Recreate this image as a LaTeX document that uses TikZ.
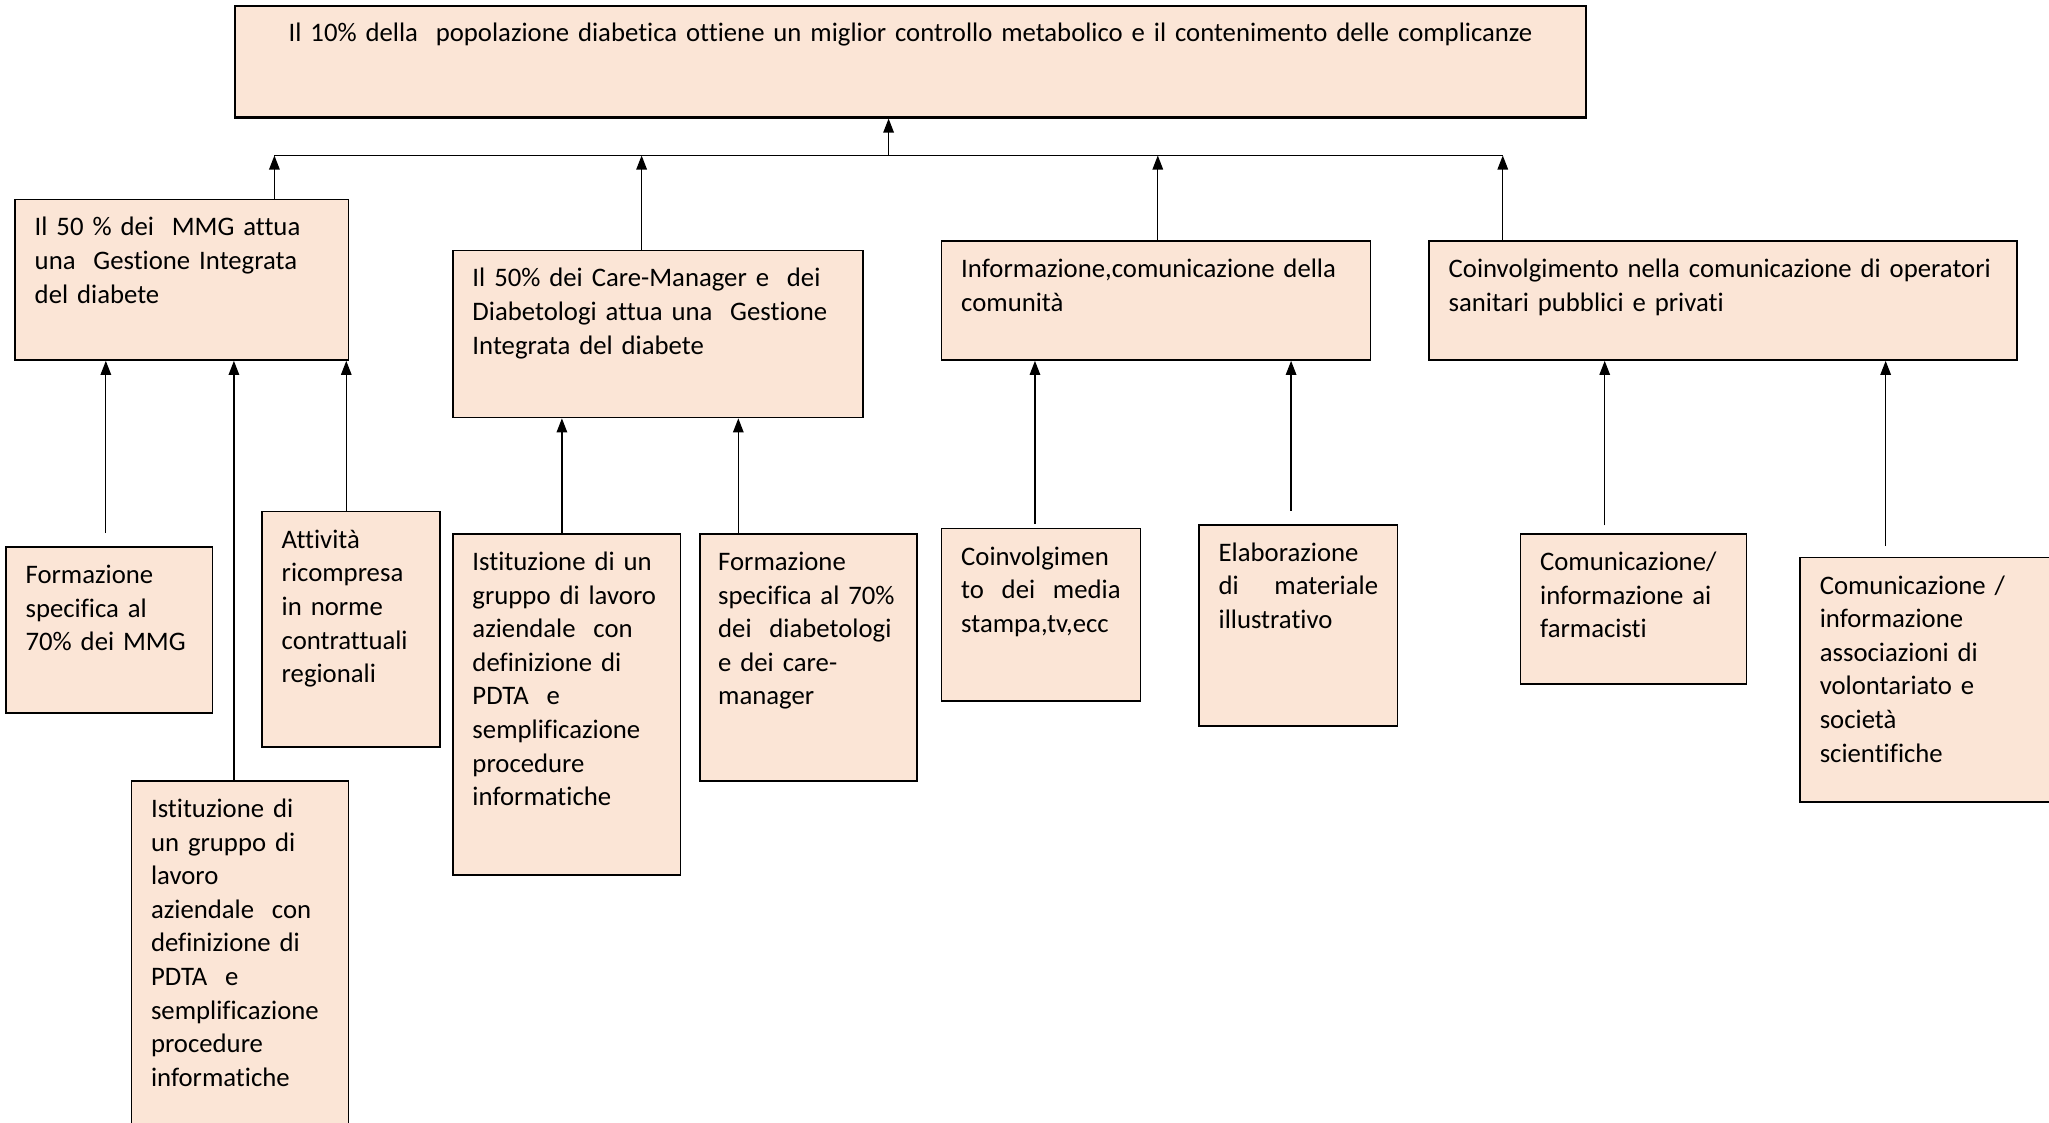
\documentclass[tikz,border=0pt]{standalone}
\usepackage{fontspec}
\setmainfont{Carlito}[Ligatures=NoCommon]
\usetikzlibrary{arrows.meta}
\definecolor{pesca}{HTML}{FBE5D6}
\newdimen\px
\px=0.521pt
\hyphenpenalty=10000
\exhyphenpenalty=10000

\begin{document}
\begin{tikzpicture}[x=\px, y=-\px,
    cella/.style={draw=black, line width=0.6pt, fill=pesca, anchor=north west,
        inner xsep=15\px, inner ysep=0pt, text height=28\px, align=left,
        font=\fontsize{10.66pt}{13.4pt}\selectfont},
    freccia/.style={line width=0.5pt, -{Triangle[length=5.6pt,width=4.2pt]}}]
                \useasboundingbox (0,0) rectangle (1568,859);
                \node [cella, line width=0.9pt, align=center, text width=1004\px, text height=27\px, text depth=58\px] (obiettivo) at (179,4) {Il 10\% della~ popolazione diabetica ottiene un miglior controllo metabolico e il contenimento delle complicanze};
                \node [cella, text width=225\px, text depth=95\px] (mmg) at (11,152) {Il 50 \% dei~ MMG attua\\ una~ Gestione Integrata\\ del diabete};
                \node [cella, text width=284\px, text depth=100\px] (caremanager) at (346,191) {Il 50\% dei Care-Manager e~ dei\\ Diabetologi attua una~ Gestione\\ Integrata del diabete};
                \node [cella, text width=298\px, text depth=63\px] (comunita) at (720,184) {Informazione,comunicazione della\\ comunità};
                \node [cella, text width=420\px, text depth=63\px] (operatori) at (1093,184) {Coinvolgimento nella comunicazione di operatori\\ sanitari pubblici e privati};
                \node [cella, text width=128\px, text depth=99\px] (formmmg) at (4,418) {Formazione\\ specifica al\\ 70\% dei MMG};
                \node [cella, text width=136\px, text depth=252\px] (gruppommg) at (100,597) {Istituzione di\\ un gruppo di\\ lavoro\\ aziendale~ con\\ definizione di\\ PDTA~ e\\ semplificazione\\ procedure\\ informatiche};
                \node [cella, text width=106\px, text depth=152\px] (norme) at (200,391) {Attività\\ ricompresa\\ in norme\\ contrattuali\\ regionali};
                \node [cella, text width=144\px, text depth=233\px] (gruppocm) at (346,408) {Istituzione di un\\ gruppo di lavoro\\ aziendale~ con\\ definizione di\\ PDTA~ e\\ semplificazione\\ procedure\\ informatiche};
                \node [cella, inner xsep=14\px, text width=138\px, text depth=161\px] (formdiab) at (535,408) {Formazione\\ specifica al 70\%\\ dei~ diabetologi\\ e dei care-\\ manager};
                \node [cella, text width=122\px, text depth=104\px] (media) at (720,404) {Coinvolgimen\\ to\hfill dei\hfill media\\ stampa,tv,ecc};
                \node [cella, text width=122\px, text depth=126\px] (materiale) at (917,401) {Elaborazione\\ di\hfill materiale\\ illustrativo};
                \node [cella, text width=143\px, text depth=87\px] (farmacisti) at (1163,408) {Comunicazione/\\ informazione ai\\ farmacisti};
                \node [cella, text width=180\px, text depth=159\px] (associazioni) at (1377,426) {Comunicazione /\\ informazione\\ associazioni di\\ volontariato e\\ società\\ scientifiche};
                \coordinate (jt) at (680,119);
                \coordinate (j1) at (210,119);
                \coordinate (j2) at (491,119);
                \coordinate (j3) at (886,119);
                \coordinate (j4) at (1150,119);
                \draw [line width=0.5pt] (j1) -- (j4);
                \draw [freccia] (jt) -- (jt |- obiettivo.south);
                \draw [freccia] (j1 |- mmg.north) -- (j1);
                \draw [freccia] (j2 |- caremanager.north) -- (j2);
                \draw [freccia] (j3 |- comunita.north) -- (j3);
                \draw [freccia] (j4 |- operatori.north) -- (j4);
                \draw [freccia, shorten <=10\px] (81,0 |- formmmg.north) -- (81,0 |- mmg.south);
                \draw [freccia] (179,0 |- gruppommg.north) -- (179,0 |- mmg.south);
                \draw [freccia] (265,0 |- norme.north) -- (265,0 |- mmg.south);
                \draw [freccia] (430,0 |- gruppocm.north) -- (430,0 |- caremanager.south);
                \draw [freccia] (565,0 |- formdiab.north) -- (565,0 |- caremanager.south);
                \draw [freccia, shorten <=3\px] (792,0 |- media.north) -- (792,0 |- comunita.south);
                \draw [freccia, shorten <=10\px] (988,0 |- materiale.north) -- (988,0 |- comunita.south);
                \draw [freccia, shorten <=6\px] (1228,0 |- farmacisti.north) -- (1228,0 |- operatori.south);
                \draw [freccia, shorten <=8\px] (1443,0 |- associazioni.north) -- (1443,0 |- operatori.south);
\end{tikzpicture}
\end{document}
